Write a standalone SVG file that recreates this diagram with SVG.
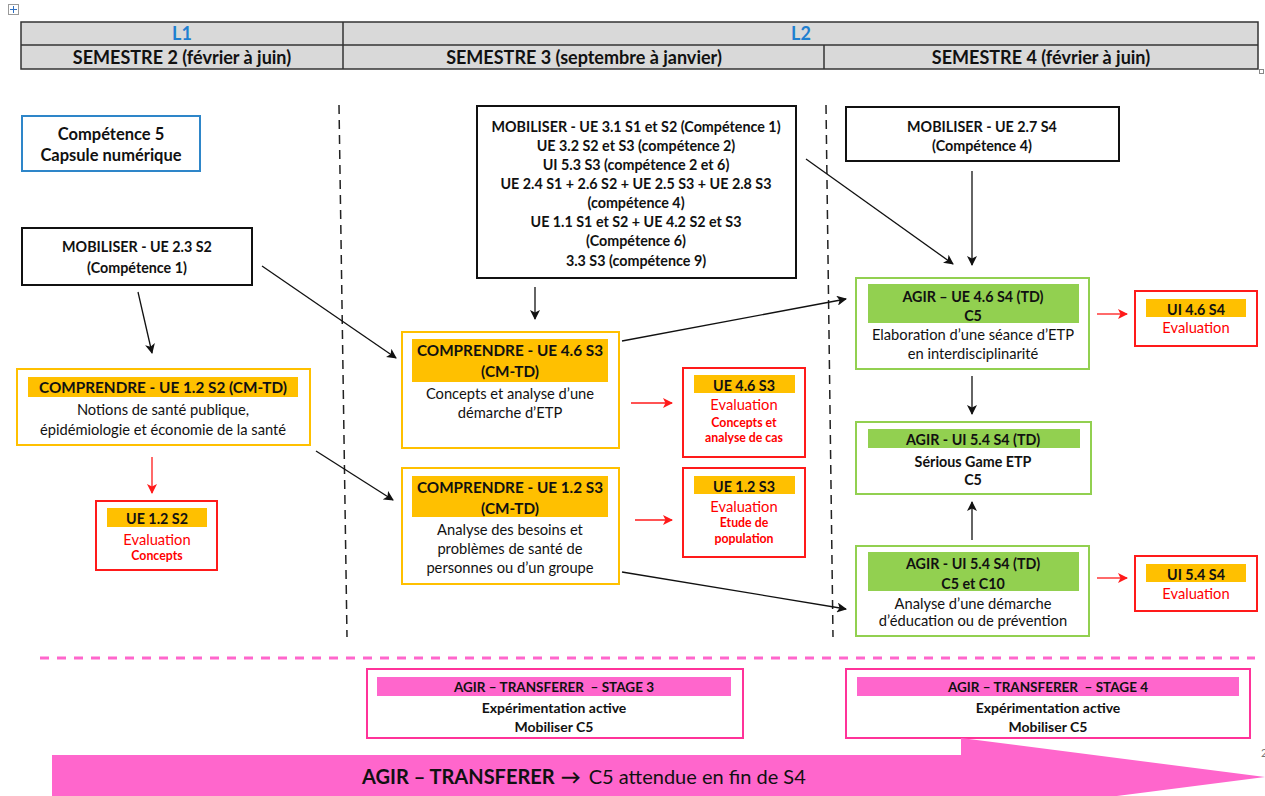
<svg xmlns="http://www.w3.org/2000/svg" width="1265" height="796" viewBox="0 0 1265 796">
<defs>
<style>
text{font-family:Lato,"Liberation Sans",sans-serif;fill:#111;text-anchor:middle;dominant-baseline:central}
.b{font-weight:bold}
.hd{font-size:18px;font-weight:bold}
.t13{font-size:14.3px}
.t14{font-size:14.7px}
.t15{font-size:15.3px}
.sm{font-size:12.3px;font-weight:bold}
.st{font-size:14px;font-weight:bold}
.red{fill:#ff0000}
.kbox{fill:#fff;stroke:#111;stroke-width:2}
.obox{fill:#fff;stroke:#ffc000;stroke-width:2}
.rbox{fill:#fff;stroke:#ff1a1a;stroke-width:2}
.gbox{fill:#fff;stroke:#92d050;stroke-width:2}
.pbox{fill:#fff;stroke:#ff3399;stroke-width:2}
.obar{fill:#ffc000}
.gbar{fill:#92d050}
.pbar{fill:#ff66cc}
.ka{stroke:#111;stroke-width:1.3;fill:none;marker-end:url(#ak)}
.ra{stroke:#ff1a1a;stroke-width:1.3;fill:none;marker-end:url(#ar)}
</style>
<marker id="ak" viewBox="0 0 10 10" refX="9" refY="5" markerWidth="10" markerHeight="10" markerUnits="userSpaceOnUse" orient="auto"><path d="M0,0 L10,5 L0,10 L2.5,5 z" fill="#111"/></marker>
<marker id="ar" viewBox="0 0 10 10" refX="9" refY="5" markerWidth="10" markerHeight="10" markerUnits="userSpaceOnUse" orient="auto"><path d="M0,0 L10,5 L0,10 L2.5,5 z" fill="#ff1a1a"/></marker>
</defs>
<rect width="1265" height="796" fill="#fff"/>

<!-- page artifacts -->
<g id="handle">
<rect x="8.5" y="4.5" width="10" height="10" fill="#fff" stroke="#9a9a9a" stroke-width="1"/>
<path d="M13.5,6 V13 M10,9.5 H17" stroke="#2f6fc0" stroke-width="1"/>
</g>
<rect x="1259.5" y="69.5" width="4" height="4" fill="#fff" stroke="#888" stroke-width="1"/>

<!-- header table -->
<g id="header">
<rect x="21" y="22" width="1237" height="47" fill="#d9d9d9" stroke="#333" stroke-width="1.5"/>
<line x1="21" y1="45" x2="1258" y2="45" stroke="#333" stroke-width="1.5"/>
<line x1="343" y1="22" x2="343" y2="69" stroke="#333" stroke-width="1.5"/>
<line x1="824" y1="45" x2="824" y2="69" stroke="#333" stroke-width="1.5"/>
<text x="182" y="33" class="hd" style="fill:#1f7fd0">L1</text>
<text x="801" y="33" class="hd" style="fill:#1f7fd0">L2</text>
<text x="182" y="57" class="hd">SEMESTRE 2 (février à juin)</text>
<text x="584" y="57" class="hd">SEMESTRE 3 (septembre à janvier)</text>
<text x="1041" y="57" class="hd">SEMESTRE 4 (février à juin)</text>
</g>

<!-- separators -->
<g id="separators" fill="none">
<line x1="339" y1="105" x2="347" y2="637" stroke="#222" stroke-width="1.5" stroke-dasharray="9,6"/>
<line x1="826" y1="105" x2="833" y2="637" stroke="#222" stroke-width="1.5" stroke-dasharray="9,6"/>
<line x1="40" y1="658" x2="1255" y2="658" stroke="#ff66cc" stroke-width="3" stroke-dasharray="9,8"/>
</g>

<!-- S2 column -->
<g id="competence5">
<rect x="22" y="116" width="178" height="55" fill="#fff" stroke="#2e86c9" stroke-width="2"/>
<text x="111" y="134" class="b" style="font-size:16.5px">Compétence 5</text>
<text x="111" y="155" class="b" style="font-size:16.5px">Capsule numérique</text>
</g>
<g id="mob23">
<rect x="22" y="228" width="230" height="57" class="kbox"/>
<text x="137" y="246" class="t13 b">MOBILISER - UE 2.3 S2</text>
<text x="137" y="267" class="t13 b">(Compétence 1)</text>
</g>
<g id="comp12s2">
<rect x="17" y="369" width="293" height="76" class="obox"/>
<rect x="28" y="377" width="270" height="20" class="obar"/>
<text x="163" y="387" class="t15 b">COMPRENDRE - UE 1.2 S2 (CM-TD)</text>
<text x="163" y="409" class="t14">Notions de santé publique,</text>
<text x="163" y="429" class="t14">épidémiologie et économie de la santé</text>
</g>
<g id="eval12s2">
<rect x="96" y="501" width="121" height="69" class="rbox"/>
<rect x="107" y="508" width="100" height="19" class="obar"/>
<text x="157" y="518" class="t13 b">UE 1.2 S2</text>
<text x="157" y="539" class="t14 red">Evaluation</text>
<text x="157" y="555" class="sm red">Concepts</text>
</g>

<!-- S3 column -->
<g id="mobS3">
<rect x="477" y="106" width="319" height="172" class="kbox"/>
<text x="636" y="126" class="t13 b">MOBILISER - UE 3.1 S1 et S2 (Compétence 1)</text>
<text x="636" y="145" class="t13 b">UE 3.2 S2 et S3 (compétence 2)</text>
<text x="636" y="164" class="t13 b">UI 5.3 S3 (compétence 2 et 6)</text>
<text x="636" y="183" class="t13 b">UE 2.4 S1 + 2.6 S2 + UE 2.5 S3 + UE 2.8 S3</text>
<text x="636" y="202" class="t13 b">(compétence 4)</text>
<text x="636" y="221" class="t13 b">UE 1.1 S1 et S2 + UE 4.2 S2 et S3</text>
<text x="636" y="240" class="t13 b">(Compétence 6)</text>
<text x="636" y="260" class="t13 b">3.3 S3 (compétence 9)</text>
</g>
<g id="comp46s3">
<rect x="402" y="332" width="217" height="116" class="obox"/>
<rect x="412" y="339" width="196" height="43" class="obar"/>
<text x="510" y="350" class="t15 b">COMPRENDRE - UE 4.6 S3</text>
<text x="510" y="371" class="t15 b">(CM-TD)</text>
<text x="510" y="393" class="t14">Concepts et analyse d’une</text>
<text x="510" y="412" class="t14">démarche d’ETP</text>
</g>
<g id="comp12s3">
<rect x="402" y="468" width="217" height="116" class="obox"/>
<rect x="412" y="476" width="196" height="41" class="obar"/>
<text x="510" y="487" class="t15 b">COMPRENDRE - UE 1.2 S3</text>
<text x="510" y="508" class="t15 b">(CM-TD)</text>
<text x="510" y="529" class="t14">Analyse des besoins et</text>
<text x="510" y="548" class="t14">problèmes de santé de</text>
<text x="510" y="567" class="t14">personnes ou d’un groupe</text>
</g>
<g id="eval46s3">
<rect x="683" y="368" width="122" height="89" class="rbox"/>
<rect x="694" y="375" width="101" height="18" class="obar"/>
<text x="744" y="385" class="t13 b">UE 4.6 S3</text>
<text x="744" y="404" class="t14 red">Evaluation</text>
<text x="744" y="422" class="sm red">Concepts et</text>
<text x="744" y="437" class="sm red">analyse de cas</text>
</g>
<g id="eval12s3">
<rect x="683" y="468" width="122" height="89" class="rbox"/>
<rect x="694" y="476" width="101" height="18" class="obar"/>
<text x="744" y="486" class="t13 b">UE 1.2 S3</text>
<text x="744" y="506" class="t14 red">Evaluation</text>
<text x="744" y="522" class="sm red">Etude de</text>
<text x="744" y="538" class="sm red">population</text>
</g>

<!-- S4 column -->
<g id="mob27">
<rect x="846" y="107" width="273" height="54" class="kbox"/>
<text x="982" y="126" class="t13 b">MOBILISER - UE 2.7 S4</text>
<text x="982" y="145" class="t13 b">(Compétence 4)</text>
</g>
<g id="agir46">
<rect x="856" y="278" width="233" height="91" class="gbox"/>
<rect x="868" y="284" width="211" height="39" class="gbar"/>
<text x="973" y="296" class="t13 b">AGIR – UE 4.6 S4 (TD)</text>
<text x="973" y="315" class="t13 b">C5</text>
<text x="973" y="334" class="t14">Elaboration d’une séance d’ETP</text>
<text x="973" y="353" class="t14">en interdisciplinarité</text>
</g>
<g id="agir54a">
<rect x="856" y="422" width="235" height="72" class="gbox"/>
<rect x="868" y="429" width="212" height="19" class="gbar"/>
<text x="973" y="439" class="t13 b">AGIR - UI 5.4 S4 (TD)</text>
<text x="973" y="461" class="t13 b">Sérious Game ETP</text>
<text x="973" y="479" class="t13 b">C5</text>
</g>
<g id="agir54b">
<rect x="856" y="546" width="233" height="90" class="gbox"/>
<rect x="868" y="552" width="211" height="39" class="gbar"/>
<text x="973" y="563" class="t13 b">AGIR - UI 5.4 S4 (TD)</text>
<text x="973" y="583" class="t13 b">C5 et C10</text>
<text x="973" y="603" class="t14">Analyse d’une démarche</text>
<text x="973" y="620" class="t14">d’éducation ou de prévention</text>
</g>
<g id="eval46s4">
<rect x="1135" y="291" width="122" height="55" class="rbox"/>
<rect x="1146" y="299" width="100" height="18" class="obar"/>
<text x="1196" y="309" class="t13 b">UI 4.6 S4</text>
<text x="1196" y="327" class="t14 red">Evaluation</text>
</g>
<g id="eval54s4">
<rect x="1135" y="556" width="122" height="55" class="rbox"/>
<rect x="1146" y="564" width="100" height="18" class="obar"/>
<text x="1196" y="574" class="t13 b">UI 5.4 S4</text>
<text x="1196" y="593" class="t14 red">Evaluation</text>
</g>

<!-- stages -->
<g id="stage3">
<rect x="367" y="669" width="376" height="69" class="pbox"/>
<rect x="377" y="677" width="354" height="19" class="pbar"/>
<text x="554" y="687" class="st" style="font-size:13.5px;white-space:pre">AGIR – TRANSFERER  – STAGE 3</text>
<text x="554" y="707" class="st">Expérimentation active</text>
<text x="554" y="726" class="st">Mobiliser C5</text>
</g>
<g id="stage4">
<rect x="846" y="669" width="404" height="69" class="pbox"/>
<rect x="857" y="677" width="382" height="19" class="pbar"/>
<text x="1048" y="687" class="st" style="font-size:13.5px;white-space:pre">AGIR – TRANSFERER  – STAGE 4</text>
<text x="1048" y="707" class="st">Expérimentation active</text>
<text x="1048" y="726" class="st">Mobiliser C5</text>
</g>

<!-- big arrow -->
<g id="bigArrow">
<path d="M52,755 H961 V738 L1265,777 L961,816 V800 H52 Z" fill="#ff66cc"/>
<text x="362" y="776" style="font-size:20px;text-anchor:start"><tspan font-weight="bold">AGIR – TRANSFERER</tspan><tspan font-weight="bold" dx="6">→</tspan><tspan dx="8">C5 attendue en fin de S4</tspan></text>
</g>
<text x="1261" y="752" style="font-size:11px;fill:#777;text-anchor:start">2</text>

<!-- connectors -->
<g id="connectors">
<path class="ka" d="M138,292 L152,353"/>
<path class="ka" d="M262,266 L396,358"/>
<path class="ka" d="M316,451 L393,500"/>
<path class="ka" d="M535,287 L535,319"/>
<path class="ka" d="M622,341 L846,299"/>
<path class="ka" d="M622,572 L846,609"/>
<path class="ka" d="M806,159 L953,264"/>
<path class="ka" d="M972,171 L972,265"/>
<path class="ka" d="M972,376 L972,414"/>
<path class="ka" d="M972,540 L972,502"/>
<path class="ra" d="M152,457 L152,493"/>
<path class="ra" d="M631,403 L672,403"/>
<path class="ra" d="M635,520 L672,520"/>
<path class="ra" d="M1097,314 L1127,314"/>
<path class="ra" d="M1097,578 L1127,578"/>
</g>
</svg>
